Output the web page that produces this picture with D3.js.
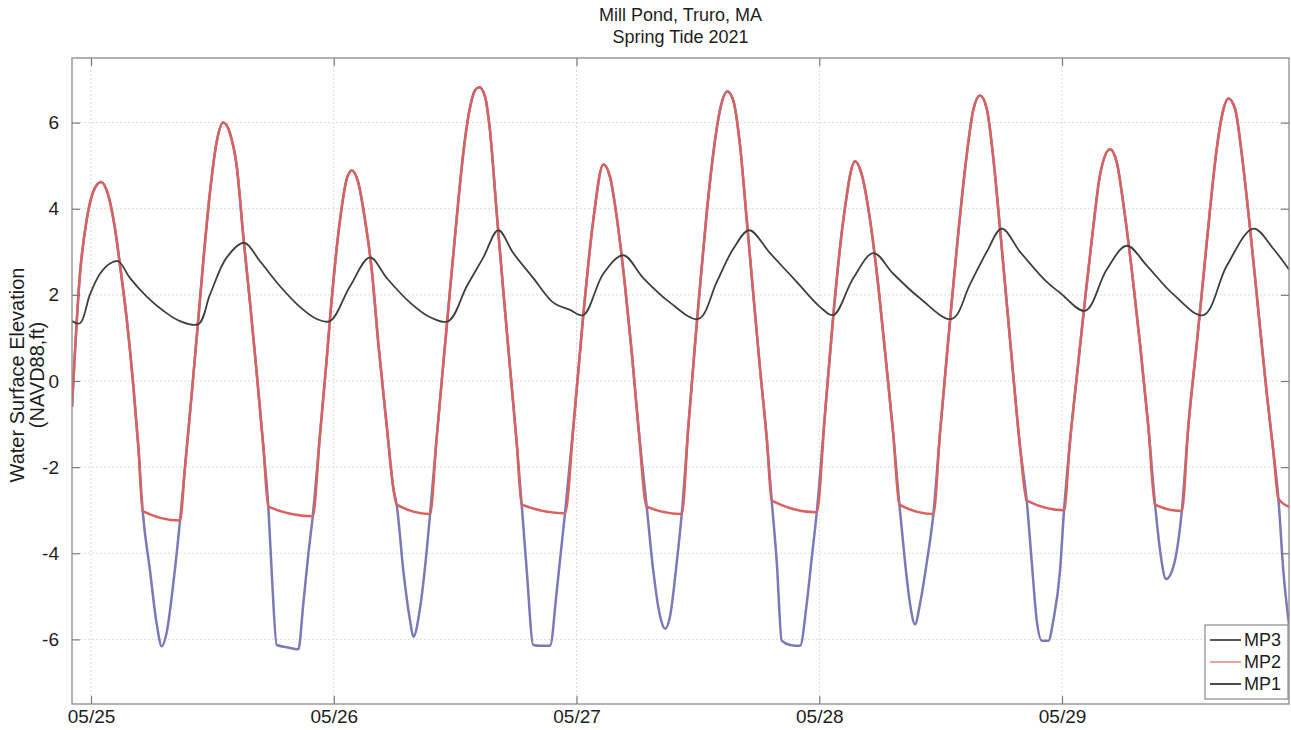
<!DOCTYPE html>
<html><head><meta charset="utf-8">
<script src="https://cdn.jsdelivr.net/npm/d3@7"></script>
<style>
body{margin:0;background:#fff}
svg{display:block}
text{font-family:"Liberation Sans",Arial,Helvetica,sans-serif;fill:#1e1e1e}
</style>
</head><body>
<svg id="chart" width="1291" height="730"></svg>
<script>
// ---------- data ----------
const titleLines = ["Mill Pond, Truro, MA", "Spring Tide 2021"];
const yLabelLines = ["Water Surface Elevation", "(NAVD88,ft)"];
const seriesNames = ["MP3", "MP2", "MP1"];
// time = hours after 2021-05-25 00:00
const timeDomainHours = [-1.88, 118.44];
const dayTickHours = [0, 24, 48, 72, 96];
const dayTickLabels = ["05/25", "05/26", "05/27", "05/28", "05/29"];
const yTicks = [-6, -4, -2, 0, 2, 4, 6];
const yDomain = [-7.5, 7.5];

const mp3Points = [[-1.88,-0.6],[-1.09,2.49],[-0.43,3.74],[0.23,4.4],[0.99,4.62],[1.71,4.31],[2.37,3.54],[2.87,2.68],[3.53,1.44],[4.18,-0.1],[4.68,-1.53],[5.11,-3.02],[5.83,-4.4],[6.50,-5.65],[6.99,-6.16],[7.48,-5.84],[8.14,-4.69],[8.80,-3.24],[9.29,-2.01],[9.96,-0.29],[10.61,1.44],[11.10,2.78],[11.77,4.4],[12.43,5.56],[13.08,6.0],[13.74,5.75],[14.41,4.98],[15.06,3.35],[15.72,1.82],[16.38,0.19],[17.04,-1.53],[17.53,-2.92],[17.90,-4.6],[18.36,-6.13],[19.35,-6.18],[20.50,-6.23],[20.99,-5.17],[21.45,-4.1],[21.92,-3.14],[22.64,-1.24],[23.30,0.5],[23.63,1.45],[24.62,3.74],[25.28,4.69],[25.78,4.89],[26.43,4.6],[27.09,3.74],[27.75,2.59],[28.41,0.86],[29.24,-1.05],[29.89,-2.49],[30.22,-2.87],[30.88,-4.41],[31.54,-5.56],[31.87,-5.94],[32.53,-5.27],[33.19,-3.93],[33.52,-3.09],[34.18,-1.3],[34.83,0.4],[35.49,2.1],[36.16,3.8],[36.81,5.3],[37.47,6.35],[37.97,6.75],[38.39,6.82],[38.95,6.61],[39.45,5.8],[40.11,3.9],[40.76,2.1],[41.43,0.3],[42.09,-1.45],[42.58,-2.87],[43.08,-4.41],[43.73,-6.13],[44.39,-6.15],[45.38,-6.15],[46.04,-4.89],[46.86,-3.07],[47.75,-0.9],[48.67,1.53],[49.66,3.74],[50.65,5.03],[51.31,4.74],[52.13,3.54],[52.80,2.2],[53.46,0.67],[54.11,-1.05],[54.94,-2.92],[55.59,-4.41],[56.26,-5.46],[56.75,-5.75],[57.25,-5.46],[57.91,-4.21],[58.40,-3.09],[59.06,-1.05],[59.72,0.86],[60.21,2.2],[60.87,3.9],[61.53,5.3],[62.19,6.3],[62.91,6.72],[63.50,6.51],[64.17,5.46],[64.83,3.74],[65.48,2.01],[66.14,0.29],[66.81,-1.34],[67.30,-2.78],[67.80,-4.21],[68.29,-6.03],[69.11,-6.13],[70.10,-6.15],[70.76,-5.17],[71.26,-4.1],[71.75,-3.05],[72.57,-0.75],[73.39,1.53],[74.38,3.74],[75.54,5.10],[76.20,4.79],[77.02,3.74],[77.84,2.2],[78.67,0.29],[79.32,-1.25],[79.92,-2.87],[80.48,-4.21],[80.97,-5.17],[81.47,-5.65],[81.96,-5.17],[82.63,-4.21],[83.28,-3.09],[83.94,-1.2],[84.60,0.55],[85.10,1.85],[85.75,3.45],[86.58,5.25],[87.23,6.3],[87.90,6.63],[88.56,6.32],[89.21,5.17],[89.87,3.54],[90.53,1.82],[91.19,0.1],[91.85,-1.53],[92.51,-2.78],[93.01,-4.21],[93.50,-5.56],[94.00,-6.03],[94.65,-6.03],[95.14,-5.56],[95.80,-4.41],[96.20,-3.0],[96.79,-1.4],[97.46,0.1],[98.28,1.9],[99.10,3.6],[99.76,4.79],[100.75,5.38],[101.41,5.08],[102.06,4.12],[102.89,2.59],[103.71,0.86],[104.53,-1.05],[105.20,-2.87],[105.69,-3.93],[106.29,-4.6],[107.01,-4.31],[107.84,-3.02],[108.49,-1.05],[109.32,0.86],[109.97,2.4],[110.64,4.0],[111.30,5.4],[111.95,6.3],[112.44,6.56],[113.11,6.32],[113.77,5.27],[114.59,3.54],[115.41,1.63],[116.24,-0.29],[116.89,-1.63],[117.39,-2.73],[117.88,-4.41],[118.44,-5.66]];

const mp2Points = [[-1.88,-0.6],[-1.09,2.49],[-0.43,3.74],[0.23,4.4],[0.99,4.62],[1.71,4.31],[2.37,3.54],[2.87,2.68],[3.53,1.44],[4.18,-0.1],[4.68,-1.53],[5.11,-3.02],[8.80,-3.24],[9.29,-2.01],[9.96,-0.29],[10.61,1.44],[11.10,2.78],[11.77,4.4],[12.43,5.56],[13.08,6.0],[13.74,5.75],[14.41,4.98],[15.06,3.35],[15.72,1.82],[16.38,0.19],[17.04,-1.53],[17.53,-2.92],[21.92,-3.14],[22.64,-1.24],[23.30,0.5],[23.63,1.45],[24.62,3.74],[25.28,4.69],[25.78,4.89],[26.43,4.6],[27.09,3.74],[27.75,2.59],[28.41,0.86],[29.24,-1.05],[29.89,-2.49],[30.22,-2.87],[33.52,-3.09],[34.18,-1.3],[34.83,0.4],[35.49,2.1],[36.16,3.8],[36.81,5.3],[37.47,6.35],[37.97,6.75],[38.39,6.82],[38.95,6.61],[39.45,5.8],[40.11,3.9],[40.76,2.1],[41.43,0.3],[42.09,-1.45],[42.58,-2.87],[46.86,-3.07],[47.75,-0.9],[48.67,1.53],[49.66,3.74],[50.65,5.03],[51.31,4.74],[52.13,3.54],[52.80,2.2],[53.46,0.67],[54.11,-1.05],[54.94,-2.92],[58.40,-3.09],[59.06,-1.05],[59.72,0.86],[60.21,2.2],[60.87,3.9],[61.53,5.3],[62.19,6.3],[62.91,6.72],[63.50,6.51],[64.17,5.46],[64.83,3.74],[65.48,2.01],[66.14,0.29],[66.81,-1.34],[67.30,-2.78],[71.75,-3.05],[72.57,-0.75],[73.39,1.53],[74.38,3.74],[75.54,5.10],[76.20,4.79],[77.02,3.74],[77.84,2.2],[78.67,0.29],[79.32,-1.25],[79.92,-2.87],[83.28,-3.09],[83.94,-1.2],[84.60,0.55],[85.10,1.85],[85.75,3.45],[86.58,5.25],[87.23,6.3],[87.90,6.63],[88.56,6.32],[89.21,5.17],[89.87,3.54],[90.53,1.82],[91.19,0.1],[91.85,-1.53],[92.51,-2.78],[96.20,-3.0],[96.79,-1.4],[97.46,0.1],[98.28,1.9],[99.10,3.6],[99.76,4.79],[100.75,5.38],[101.41,5.08],[102.06,4.12],[102.89,2.59],[103.71,0.86],[104.53,-1.05],[105.20,-2.87],[107.84,-3.02],[108.49,-1.05],[109.32,0.86],[109.97,2.4],[110.64,4.0],[111.30,5.4],[111.95,6.3],[112.44,6.56],[113.11,6.32],[113.77,5.27],[114.59,3.54],[115.41,1.63],[116.24,-0.29],[116.89,-1.63],[117.39,-2.73],[118.44,-2.92]];

const mp1Points = [[-1.88,1.39],[-1.09,1.34],[-0.10,2.01],[0.89,2.49],[1.88,2.73],[2.70,2.78],[3.86,2.39],[5.51,1.96],[7.15,1.63],[8.80,1.39],[10.61,1.32],[11.77,2.01],[13.42,2.87],[15.13,3.21],[16.71,2.78],[18.69,2.20],[20.66,1.72],[22.32,1.44],[23.63,1.39],[25.61,2.2],[27.58,2.87],[29.24,2.39],[31.54,1.82],[33.52,1.48],[35.33,1.39],[37.15,2.2],[38.79,2.87],[40.27,3.5],[41.75,2.97],[43.73,2.39],[45.71,1.82],[47.36,1.65],[48.67,1.53],[50.65,2.49],[52.63,2.92],[54.60,2.39],[57.25,1.82],[60.05,1.44],[61.87,2.3],[63.50,3.07],[65.08,3.5],[67.13,2.97],[69.77,2.3],[72.07,1.72],[73.39,1.53],[75.37,2.39],[77.35,2.97],[79.32,2.49],[81.96,1.92],[85.10,1.44],[86.91,2.25],[88.56,3.0],[90.04,3.54],[91.85,3.0],[94.49,2.3],[95.80,2.05],[98.28,1.63],[100.42,2.59],[102.40,3.14],[104.38,2.68],[107.01,2.01],[109.97,1.53],[112.30,2.68],[114.93,3.54],[116.89,3.07],[118.44,2.59]];

// ---------- drawing ----------
const base = new Date(2021, 4, 25, 0, 0, 0).getTime();
const toDate = h => new Date(base + h * 3600000);

const svg = d3.select("#chart");
const L = 72, R = 1289, T = 58, B = 704;
const FONT = '"Liberation Sans",Arial,sans-serif';

const x = d3.scaleTime().domain(timeDomainHours.map(toDate)).range([L, R]);
const y = d3.scaleLinear().domain(yDomain).range([B, T]);

// grid
const grid = svg.append("g").attr("stroke", "#dadada").attr("stroke-width", 1).attr("stroke-dasharray", "2,2");
grid.selectAll("line.h").data(yTicks).join("line").attr("class", "h")
  .attr("x1", L).attr("x2", R).attr("y1", d => y(d)).attr("y2", d => y(d));
grid.selectAll("line.v").data(dayTickHours).join("line").attr("class", "v")
  .attr("x1", d => x(toDate(d))).attr("x2", d => x(toDate(d))).attr("y1", T).attr("y2", B);

// clip
svg.append("clipPath").attr("id", "clip").append("rect")
  .attr("x", L).attr("y", T).attr("width", R - L).attr("height", B - T);

const line = d3.line().x(d => x(toDate(d[0]))).y(d => y(d[1]));
const plot = svg.append("g").attr("clip-path", "url(#clip)");

plot.append("path").datum(mp3Points)
  .attr("d", line.curve(d3.curveMonotoneX))
  .attr("fill", "none").attr("stroke", "#7d78b8").attr("stroke-width", 2.5)
  .attr("stroke-linejoin", "round");
plot.append("path").datum(mp2Points)
  .attr("d", line.curve(d3.curveMonotoneX))
  .attr("fill", "none").attr("stroke", "#d9625f").attr("stroke-width", 2.5)
  .attr("stroke-linejoin", "round");
plot.append("path").datum(mp1Points)
  .attr("d", line.curve(d3.curveCatmullRom.alpha(0.5)))
  .attr("fill", "none").attr("stroke", "#3e4040").attr("stroke-width", 1.8)
  .attr("stroke-linejoin", "round");

// axes
const tickVals = dayTickHours.map(toDate);
const axStyle = g => {
  g.select(".domain").remove();
  g.selectAll(".tick line").attr("stroke", "#7a7a7a").attr("stroke-width", 1.2);
  g.selectAll("text").attr("font-size", 19).attr("fill", "#1e1e1e").attr("font-family", FONT);
};
svg.append("g").attr("transform", `translate(0,${B})`)
  .call(d3.axisBottom(x).tickValues(tickVals).tickFormat((d, i) => dayTickLabels[i]).tickSizeInner(-8).tickSizeOuter(0).tickPadding(6))
  .call(axStyle);
svg.append("g").attr("transform", `translate(0,${T})`)
  .call(d3.axisTop(x).tickValues(tickVals).tickFormat("").tickSizeInner(-8).tickSizeOuter(0))
  .call(axStyle);
svg.append("g").attr("transform", `translate(${L},0)`)
  .call(d3.axisLeft(y).tickValues(yTicks).tickFormat(d3.format("d")).tickSizeInner(-8).tickSizeOuter(0).tickPadding(13))
  .call(axStyle);
svg.append("g").attr("transform", `translate(${R},0)`)
  .call(d3.axisRight(y).tickValues(yTicks).tickFormat("").tickSizeInner(-8).tickSizeOuter(0))
  .call(axStyle);

// minus sign as hyphen like MATLAB
svg.selectAll("text").each(function () {
  const t = d3.select(this); t.text(t.text().replace("\u2212", "-"));
});

// box
svg.append("rect").attr("x", L).attr("y", T).attr("width", R - L).attr("height", B - T)
  .attr("fill", "none").attr("stroke", "#8a8a8a").attr("stroke-width", 1.3);

// title
svg.append("g").selectAll("text").data(titleLines).join("text")
  .attr("x", (L + R) / 2).attr("y", (d, i) => 21 + i * 22)
  .attr("text-anchor", "middle").attr("font-size", 18).text(d => d);

// y label
svg.append("g").selectAll("text").data(yLabelLines).join("text")
  .attr("transform", (d, i) => `translate(${24 + i * 20},${(T + B) / 2 - 6}) rotate(-90)`)
  .attr("text-anchor", "middle").attr("font-size", 20).text(d => d);

// legend
const lg = svg.append("g");
lg.append("rect").attr("x", 1205).attr("y", 625).attr("width", 83).attr("height", 74)
  .attr("fill", "#fff").attr("stroke", "#8a8a8a").attr("stroke-width", 1.2);
const legendStyles = [
  {color: "#2e2e36", w: 1.6},
  {color: "#ee8a82", w: 1.6},
  {color: "#1e1e1e", w: 1.6}
];
seriesNames.forEach((name, i) => {
  const yy = 640 + i * 22;
  lg.append("line").attr("x1", 1210).attr("x2", 1241).attr("y1", yy).attr("y2", yy)
    .attr("stroke", legendStyles[i].color).attr("stroke-width", legendStyles[i].w);
  lg.append("text").attr("x", 1244).attr("y", yy).attr("dy", "0.36em")
    .attr("font-size", 18).text(name);
});
</script>
</body></html>
